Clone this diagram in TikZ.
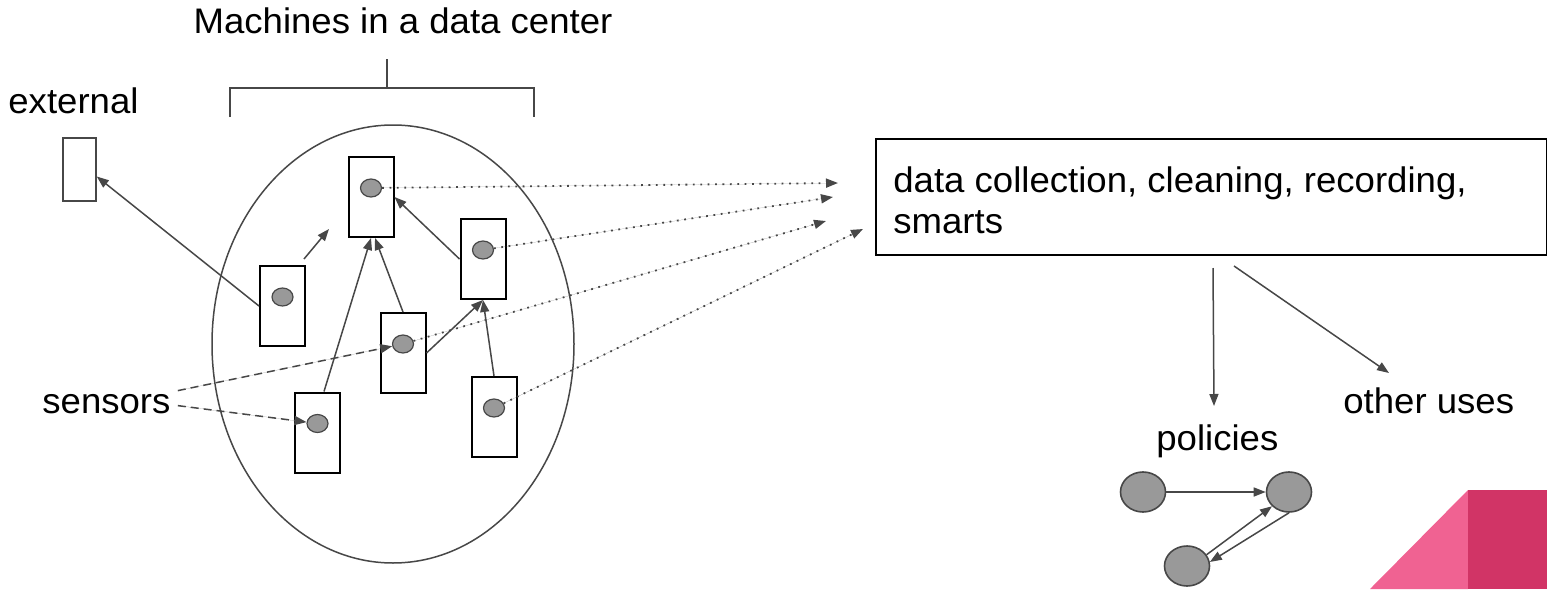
\documentclass[tikz,border=0pt]{standalone}
\usepackage{fontspec}
\setmainfont{Liberation Sans}[FakeStretch=1.03]
\usepackage{tikz}
\usetikzlibrary{arrows.meta,shapes.geometric}

\definecolor{linegray}{HTML}{474747}
\definecolor{dotgray}{HTML}{999999}
\definecolor{pinklight}{HTML}{F06292}
\definecolor{pinkdark}{HTML}{D13466}

\begin{document}
\begin{tikzpicture}[x=0.5pt, y=-0.5pt,
    font=\fontsize{17.75pt}{20.5pt}\selectfont,
    >={Triangle[length=6pt,width=4.5pt]},
    machine/.style={draw=black, line width=1pt, minimum width=22.5pt, minimum height=40pt, inner sep=0},
    dot/.style={ellipse, draw=linegray, fill=dotgray, line width=0.6pt, minimum width=10.5pt, minimum height=9pt, inner sep=0},
    pnode/.style={ellipse, draw=linegray, fill=dotgray, line width=0.8pt, minimum width=22.5pt, minimum height=20pt, inner sep=0},
    conn/.style={->, draw=linegray, fill=linegray, line width=0.75pt},
    dots/.style={conn, line width=0.9pt, dash pattern=on 0.9pt off 2.8pt},
    txt/.style={inner sep=0, anchor=base west}]

      \useasboundingbox (0,0) rectangle (1547,589);

      % bracket over the data center
      \node[txt, anchor=base] (title) at (403,33) {Machines in a data center};
      \draw[linegray, line width=0.75pt] (230,117) -- (230,88) -- (534,88) -- (534,117);
      \draw[linegray, line width=0.75pt] (387,88) -- (387,59);
      \draw[linegray, line width=0.75pt] (393,344) ellipse [x radius=181, y radius=219];

      \node[txt] (external) at (8,113) {external};
      \node[draw=linegray, line width=0.75pt, minimum width=16.5pt, minimum height=31.5pt, inner sep=0] (ext) at (79.5,169.5) {};

      \node[machine] (m1) at (371,197) {};
      \node[machine] (m2) at (282.5,306) {};
      \node[machine] (m3) at (483,259) {};
      \node[machine] (m4) at (403,353) {};
      \node[machine] (m5) at (317.5,432.5) {};
      \node[machine] (m6) at (494,417) {};

      \node[dot] (c1) at ([yshift=4.5pt]m1.center) {};
      \node[dot] (c2) at ([yshift=4.5pt]m2.center) {};
      \node[dot] (c3) at ([yshift=4.5pt]m3.center) {};
      \node[dot] (c4) at ([yshift=4.5pt]m4.center) {};
      \node[dot] (c5) at ([yshift=4.5pt]m5.center) {};
      \node[dot] (c6) at ([yshift=4.5pt]m6.center) {};

      \node[txt] (sensors) at (42,413) {sensors};

      % collector box
      \node[draw=black, line width=1pt, minimum width=335.5pt, minimum height=58pt, inner sep=0, anchor=north west] (data) at (875,138) {};
      \node[txt, anchor=north west, align=left] (datatext) at (893,166.5) {data collection, cleaning, recording,\\smarts};

      \node[txt] (policies) at (1156,450) {policies};
      \node[txt] (other) at (1343,413) {other uses};

      \node[pnode] (p1) at (1143,492) {};
      \node[pnode] (p2) at (1289,492) {};
      \node[pnode] (p3) at (1187,566) {};

      \coordinate (a1) at (304,259);
      \coordinate (a2) at (329,229);
      \coordinate (d1) at (838,183);
      \coordinate (d2) at (833,197);
      \coordinate (d3) at (826,221);
      \coordinate (d4) at (863,229);
      \coordinate (o1) at (1213,268);
      \coordinate (o2) at (1214,406);
      \coordinate (o3) at (1234,266);
      \coordinate (o4) at (1389,373);

      % links between machines
      \draw[conn] (m2.west) -- ([yshift=-3.5pt]ext.east);
      \draw[conn] (a1) -- (a2);
      \draw[conn] ([xshift=3.25pt]m5.north) -- (m1.south);
      \draw[conn] (m4.north) -- ([xshift=2pt]m1.south);
      \draw[conn] (m3.west) -- (m1.east);
      \draw[conn] (m4.east) -- (m3.south);
      \draw[conn] (m6.north) -- (m3.south);

      \draw[conn, dash pattern=on 4pt off 2.5pt] ([xshift=3.5pt,yshift=6.5pt]sensors.east) -- (c4);
      \draw[conn, dash pattern=on 4pt off 2.5pt] ([xshift=3.5pt,yshift=-1pt]sensors.east) -- (c5);

      \draw[dots] (c1) -- (d1);
      \draw[dots] (c3) -- (d2);
      \draw[dots] (c4) -- (d3);
      \draw[dots] (c6) -- (d4);

      \draw[conn] (o1) -- (o2);
      \draw[conn] (o3) -- (o4);

      \draw[conn] (p1) -- (p2);
      \draw[conn] (p3.30) -- (p2.220);
      \draw[conn] (p2.270) -- (p3.10);

      \fill[pinklight] (1370,589) -- (1468,490) -- (1468,589) -- cycle;
      \fill[pinkdark] (1468,490) rectangle (1547,589);
     \end{tikzpicture}
\end{document}
